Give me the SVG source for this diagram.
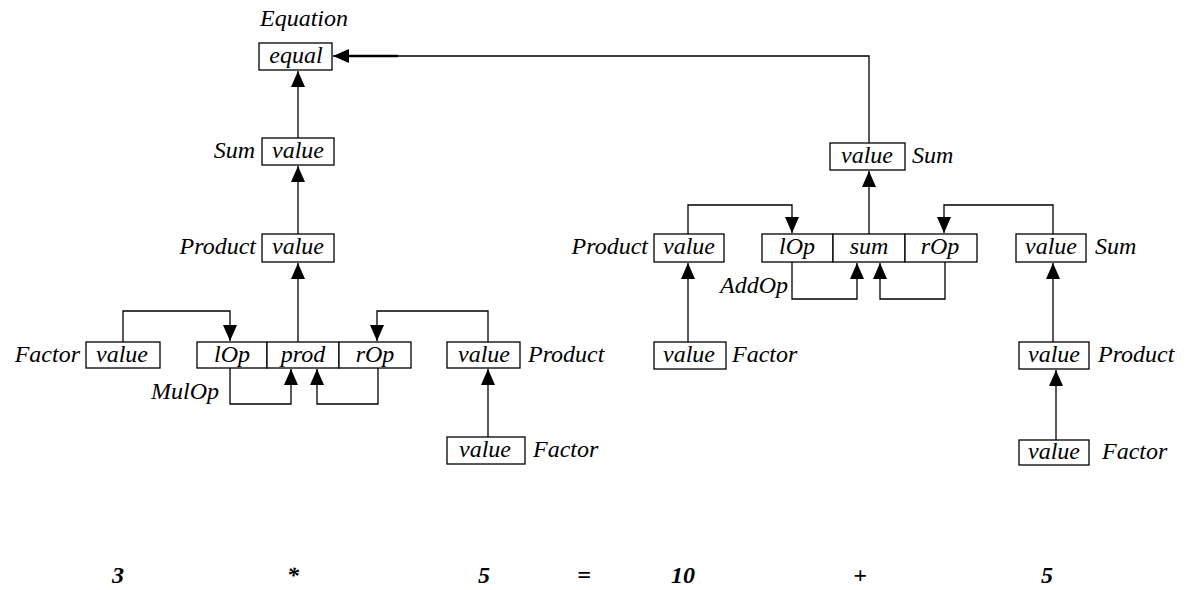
<svg xmlns="http://www.w3.org/2000/svg" width="1186" height="590" viewBox="0 0 1186 590">
<style>
text{font-family:"Liberation Serif","Times New Roman",serif;font-style:italic;font-size:24px;fill:#000}
.c{text-anchor:middle}
.e{text-anchor:end}
.b{font-weight:bold;font-size:24px;text-anchor:middle}
rect{fill:#fff;stroke:#000;stroke-width:1.3}
.cn path{fill:none;stroke:#000;stroke-width:1.3}
</style>
<defs>
<marker id="ah" viewBox="0 0 16 14" refX="16" refY="7" markerWidth="16" markerHeight="14" markerUnits="userSpaceOnUse" orient="auto">
<path d="M0,0 L16,7 L0,14 Z" fill="#000"/>
</marker>
</defs>
<rect x="0" y="0" width="1186" height="590" style="stroke:none"/>

<g id="equation">
<text x="260" y="26">Equation</text>
<rect x="259" y="43" width="73" height="27"/>
<text class="c" x="296" y="63">equal</text>
</g>
<g id="sum-left">
<text class="e" x="255" y="158">Sum</text>
<rect x="262" y="138" width="72" height="27"/>
<text class="c" x="298" y="158">value</text>
</g>
<g id="product-left">
<text class="e" x="256" y="254">Product</text>
<rect x="262" y="234" width="72" height="28"/>
<text class="c" x="298" y="254">value</text>
</g>
<g id="factor-left">
<text class="e" x="80" y="362">Factor</text>
<rect x="86" y="342" width="74" height="26"/>
<text class="c" x="122" y="362">value</text>
</g>
<g id="mulop">
<rect x="197" y="342" width="70" height="26"/>
<rect x="267" y="342" width="72" height="26"/>
<rect x="339" y="342" width="72" height="26"/>
<text class="c" x="232" y="362">lOp</text>
<text class="c" x="303" y="362">prod</text>
<text class="c" x="375" y="362">rOp</text>
<text class="e" x="219" y="399">MulOp</text>
</g>
<g id="product-mid">
<rect x="447" y="342" width="73" height="26"/>
<text class="c" x="484" y="362">value</text>
<text x="528" y="362">Product</text>
</g>
<g id="factor-mid">
<rect x="447" y="437" width="78" height="27"/>
<text class="c" x="485" y="457">value</text>
<text x="533" y="457">Factor</text>
</g>
<g id="sum-top-right">
<rect x="830" y="143" width="75" height="27"/>
<text class="c" x="867" y="163">value</text>
<text x="912" y="163">Sum</text>
</g>
<g id="product-right">
<text class="e" x="648" y="254">Product</text>
<rect x="654" y="234" width="70" height="28"/>
<text class="c" x="689" y="254">value</text>
</g>
<g id="factor-right">
<rect x="654" y="342" width="72" height="27"/>
<text class="c" x="689" y="362">value</text>
<text x="732" y="362">Factor</text>
</g>
<g id="addop">
<rect x="762" y="234" width="71" height="28"/>
<rect x="833" y="234" width="72" height="28"/>
<rect x="905" y="234" width="72" height="28"/>
<text class="c" x="797" y="254">lOp</text>
<text class="c" x="869" y="254">sum</text>
<text class="c" x="940" y="254">rOp</text>
<text class="e" x="788" y="293">AddOp</text>
</g>
<g id="sum-far-right">
<rect x="1016" y="234" width="70" height="28"/>
<text class="c" x="1051" y="254">value</text>
<text x="1095" y="254">Sum</text>
</g>
<g id="product-far-right">
<rect x="1019" y="342" width="70" height="27"/>
<text class="c" x="1054" y="362">value</text>
<text x="1098" y="362">Product</text>
</g>
<g id="factor-far-right">
<rect x="1019" y="440" width="70" height="25"/>
<text class="c" x="1054" y="459">value</text>
<text x="1102" y="459">Factor</text>
</g>

<g id="connectors" class="cn">
<path d="M869,143 V56 H333" marker-end="url(#ah)"/>
<path d="M340,56 H398" style="stroke-width:2.5"/>
<path d="M298,138 V71" marker-end="url(#ah)"/>
<path d="M298,234 V166" marker-end="url(#ah)"/>
<path d="M298,342 V263" marker-end="url(#ah)"/>
<path d="M123,342 V311 H230 V341" marker-end="url(#ah)"/>
<path d="M488,342 V311 H377 V341" marker-end="url(#ah)"/>
<path d="M230,368 V404 H291 V369" marker-end="url(#ah)"/>
<path d="M378,368 V404 H317 V369" marker-end="url(#ah)"/>
<path d="M488,437 V369" marker-end="url(#ah)"/>
<path d="M869,234 V171" marker-end="url(#ah)"/>
<path d="M688,234 V205 H792 V233" marker-end="url(#ah)"/>
<path d="M1053,234 V205 H944 V233" marker-end="url(#ah)"/>
<path d="M792,262 V299 H857 V263" marker-end="url(#ah)"/>
<path d="M945,262 V299 H880 V263" marker-end="url(#ah)"/>
<path d="M688,342 V263" marker-end="url(#ah)"/>
<path d="M1053,342 V263" marker-end="url(#ah)"/>
<path d="M1056,440 V370" marker-end="url(#ah)"/>
</g>

<g id="expression">
<text class="b" x="118" y="583">3</text>
<text class="b" x="293" y="583">*</text>
<text class="b" x="484" y="583">5</text>
<text class="b" x="584" y="583">=</text>
<text class="b" x="683" y="583">10</text>
<text class="b" x="860" y="583">+</text>
<text class="b" x="1047" y="583">5</text>
</g>
</svg>
